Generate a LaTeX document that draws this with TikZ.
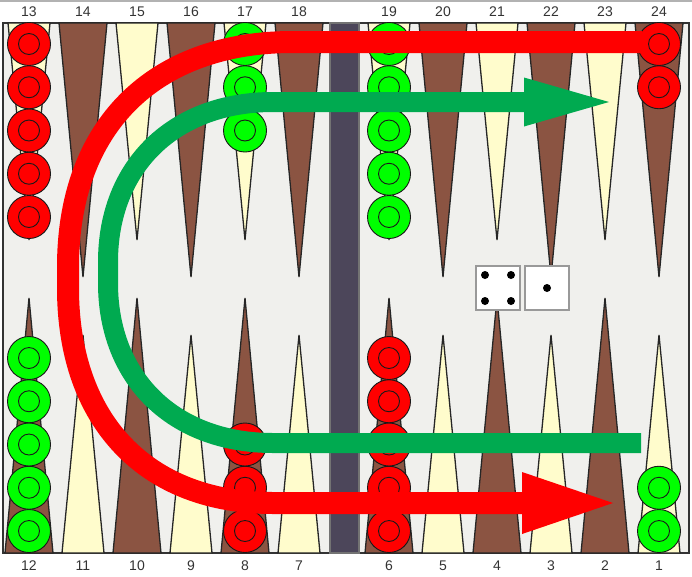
\documentclass[tikz,border=0pt]{standalone}
\usepackage{fontspec}
\setmainfont{Liberation Sans}
\usetikzlibrary{arrows.meta}
\definecolor{ptbrown}{RGB}{139,84,66}
\definecolor{ptcream}{RGB}{255,252,204}
\definecolor{boardbg}{RGB}{240,240,237}
\definecolor{barcol}{RGB}{76,70,90}
\definecolor{chkred}{RGB}{255,0,0}
\definecolor{chkgreen}{RGB}{0,255,0}
\definecolor{arrgreen}{RGB}{0,170,80}
\begin{document}
\begin{tikzpicture}[x=1pt, y=-1pt,
      tri/.style={draw=black!85, line width=1.3pt},
      checker/.style={draw=black!90, line width=0.9pt},
      lbl/.style={font=\fontsize{14}{14}\selectfont, text=black!80},
      die/.style={draw=black!40, line width=1.2pt, fill=white},
      redarrow/.style={draw=chkred, line width=22pt,
        -{Triangle[length=91pt, width=62pt, line width=0pt]}},
      greenarrow/.style={draw=arrgreen, line width=20pt,
        -{Triangle[length=85pt, width=49pt, line width=0pt]}}]
      \useasboundingbox (0,0) rectangle (692,576);
      \draw[black!30, line width=1.5pt] (0,0.75) -- (692,0.75);
      % board and bar
      \draw[fill=boardbg, draw=black!80, line width=1.5pt] (3,23) rectangle (689,553);
      \draw[fill=barcol, draw=black!55, line width=1.2pt] (330,23) rectangle (359,553);
      % points and numbers
      \foreach \i in {0,...,11} {
        \pgfmathsetmacro\px{29+54*\i+36*(\i>5)}
        \pgfmathtruncatemacro\uplbl{13+\i}
        \pgfmathtruncatemacro\dnlbl{12-\i}
        \ifodd\i
          \draw[tri, fill=ptbrown] (\px-24,23) -- (\px,277) -- (\px+24,23) -- cycle;
          \draw[tri, fill=ptcream] (\px-21,553) -- (\px,335) -- (\px+21,553) -- cycle;
        \else
          \draw[tri, fill=ptcream] (\px-21,23) -- (\px,240) -- (\px+21,23) -- cycle;
          \draw[tri, fill=ptbrown] (\px-24,553) -- (\px,298) -- (\px+24,553) -- cycle;
        \fi
        \node[lbl] (up\i) at (\px,12) {\uplbl};
        \node[lbl] (dn\i) at (\px,566) {\dnlbl};
      }
      % checkers
      \foreach \cx/\n/\c in {29/5/chkred, 245/3/chkgreen, 389/5/chkgreen, 659/2/chkred}
        \foreach \k in {1,...,\n}
          \draw[checker, fill=\c] (\cx,{44+43.25*(\k-1)}) circle[radius=21.5] circle[radius=10.5];
      \foreach \cx/\n/\c in {29/5/chkgreen, 245/3/chkred, 389/5/chkred, 659/2/chkgreen}
        \foreach \k in {1,...,\n}
          \draw[checker, fill=\c] (\cx,{531-43.25*(\k-1)}) circle[radius=21.5] circle[radius=10.5];
      % dice
      \draw[die] (476,266) rectangle (520,310);
      \draw[die] (525,266) rectangle (569,310);
      \foreach \dx/\dy in {485/275, 511/275, 485/301, 511/301, 547/288}
        \fill (\dx,\dy) circle[radius=4];
      % moves
      \coordinate (redfrom) at (642,42);
      \coordinate (redto) at (613,503);
      \coordinate (greenfrom) at (641,443);
      \coordinate (greento) at (609,102);
      \draw[redarrow] (redfrom) -- (293,42) .. controls (153,42) and (68,127) .. (68,267)
        -- (68,288) .. controls (68,421) and (146,503) .. (273,503) -- (redto);
      \draw[greenarrow] (greenfrom) -- (273,443) .. controls (174,443) and (108,379) .. (108,283)
        -- (108,262) .. controls (108,166) and (174,102) .. (273,102) -- (greento);
\end{tikzpicture}
\end{document}
